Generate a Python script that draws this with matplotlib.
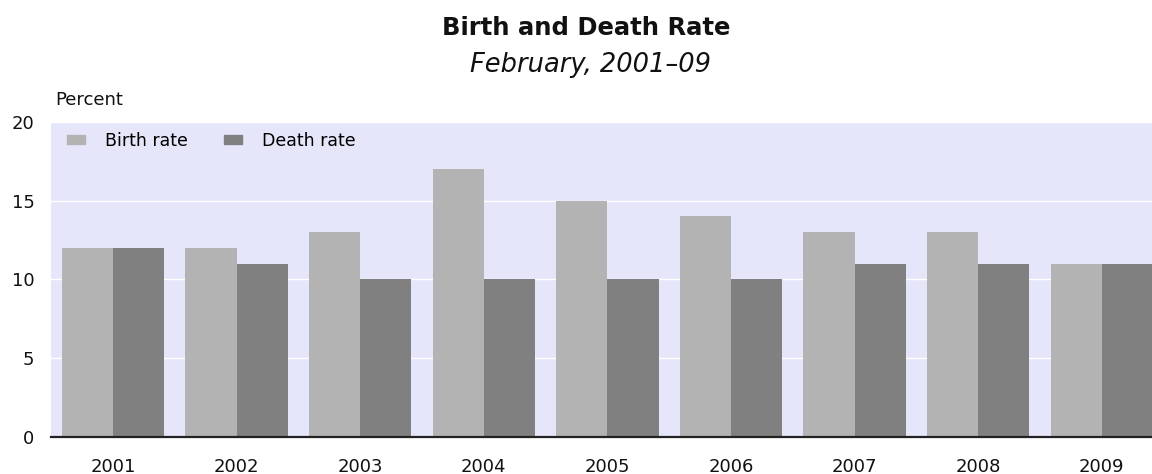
import matplotlib
matplotlib.use("Agg")
import matplotlib.pyplot as plt
import numpy as np
from matplotlib.patches import Patch

years = ["2001", "2002", "2003", "2004", "2005", "2006", "2007", "2008", "2009"]
birth_rate = [12, 12, 13, 17, 15, 14, 13, 13, 11]
death_rate = [12, 11, 10, 10, 10, 10, 11, 11, 11]

plt.rcParams['font.family'] = ['DejaVu Sans']

W, H = 1152, 474
fig = plt.figure(figsize=(W / 100, H / 100), dpi=100)

# axes in pixel coordinates (right side runs slightly past the canvas)
left, right, top, bottom = 51.2, 1163.6, 121.7, 437
ax = fig.add_axes([left / W, 1 - bottom / H, (right - left) / W, (bottom - top) / H])
ax.set_facecolor('#e6e6fa')

x = np.arange(len(years))
bw = 0.415
ax.bar(x - bw / 2, birth_rate, width=bw, color='#b3b3b3', zorder=3)
ax.bar(x + bw / 2, death_rate, width=bw, color='#808080', zorder=3)

ax.set_xlim(-0.5, len(years) - 0.5)
ax.set_ylim(0, 20)
ax.set_yticks([0, 5, 10, 15, 20])
ax.yaxis.grid(True, color='white', linewidth=1.0, zorder=1)
ax.set_axisbelow(True)
ax.set_xticks(x)
ax.set_xticklabels(years)
ax.tick_params(axis='both', length=0, labelsize=13, colors='#111111')
ax.tick_params(axis='x', pad=15)
ax.tick_params(axis='y', pad=12)

for s in ['top', 'right', 'left']:
    ax.spines[s].set_visible(False)
ax.spines['bottom'].set_color('#222222')
ax.spines['bottom'].set_linewidth(1.6)
ax.spines['bottom'].set_zorder(5)

handles = [Patch(color='#b3b3b3', label='Birth rate'),
           Patch(color='#808080', label='Death rate')]
ax.legend(handles=handles, loc='upper left', ncol=2, frameon=False,
          fontsize=12.5, handlelength=1.04, handleheight=0.46, handletextpad=1.15,
          columnspacing=2.05, borderaxespad=0.0,
          bbox_to_anchor=(9 / (right - left), 1 - 3 / (bottom - top)))

fig.text(586 / W, 1 - 28 / H, 'Birth and Death Rate', ha='center', va='center',
         fontsize=17.5, fontweight='bold', color='#111111')
fig.text(590 / W, 1 - 65 / H, 'February, 2001–09', ha='center', va='center',
         fontsize=18.5, style='italic', color='#111111')
fig.text(55 / W, 1 - 100 / H, 'Percent', ha='left', va='center',
         fontsize=13, color='#111111')

fig.savefig('out.png', dpi=100)
